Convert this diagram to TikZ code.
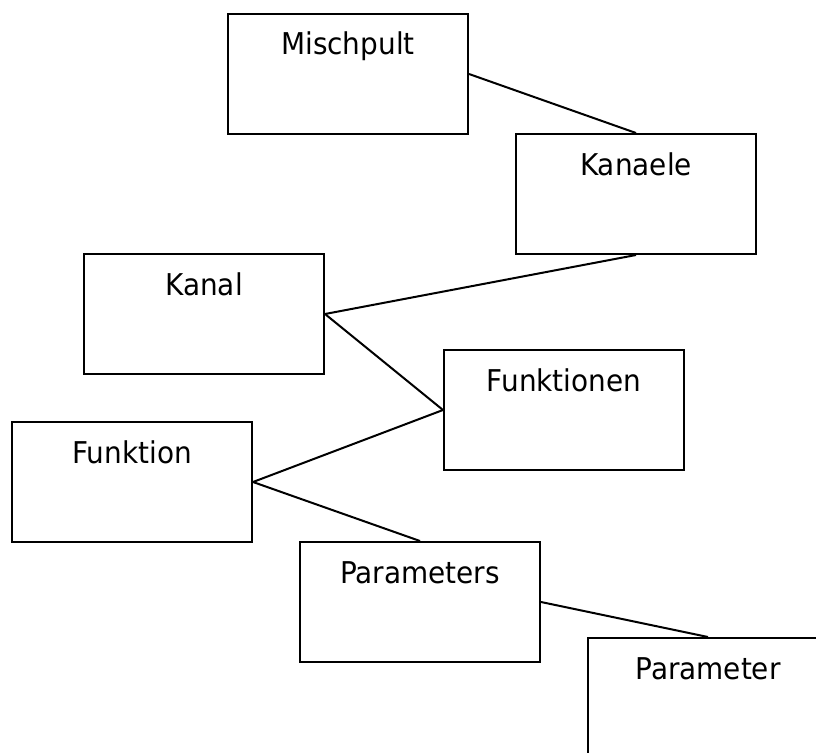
\documentclass[tikz,border=0pt]{standalone}
\usepackage{fontspec}
\setmainfont[FakeStretch=0.93]{DejaVu Sans}
\tikzset{
  entity/.style={draw=black, line width=2pt, rectangle, anchor=north west, inner sep=0pt,
    text width=240pt, text height=41pt, text depth=79pt, align=center,
    font=\fontsize{30pt}{33pt}\selectfont},
  link/.style={draw=black, line width=2pt}
}
\begin{document}
\begin{tikzpicture}[x=1pt,y=-1pt]
\useasboundingbox (0,0) rectangle (816,752);
\clip (0,0) rectangle (816,752);
\node[entity] (mischpult) at (227,13) {Mischpult};
\node[entity] (kanaele) at (515,133) {Kanaele};
\node[entity] (kanal) at (83,253) {Kanal};
\node[entity] (funktionen) at (443,349) {Funktionen};
\node[entity] (funktion) at (11,421) {Funktion};
\node[entity] (parameters) at (299,541) {Parameters};
\node[entity] (parameter) at (587,637) {Parameter};
\draw[link] (mischpult.east) -- (kanaele.north);
\draw[link] (kanaele.south) -- (kanal.east);
\draw[link] (kanal.east) -- (funktionen.west);
\draw[link] (funktionen.west) -- (funktion.east);
\draw[link] (funktion.east) -- (parameters.north);
\draw[link] (parameters.east) -- (parameter.north);
\end{tikzpicture}
\end{document}
